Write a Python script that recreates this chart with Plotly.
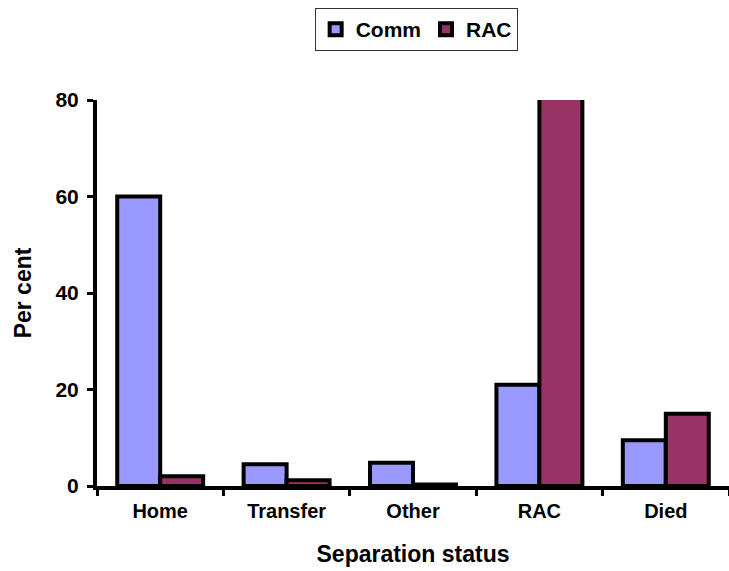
import plotly.graph_objects as go

categories = ["Home", "Transfer", "Other", "RAC", "Died"]
comm_values = [60, 4.5, 4.8, 21, 9.5]
rac_values = [2, 1.2, 0.3, 85, 15]
y_ticks = [0, 20, 40, 60, 80]

FONT = "Arial, Liberation Sans, sans-serif"

fig = go.Figure()
fig.add_trace(go.Bar(
    name="Comm", x=categories, y=comm_values,
    marker=dict(color="#9999FF", line=dict(color="black", width=4)),
))
fig.add_trace(go.Bar(
    name="RAC", x=categories, y=rac_values,
    marker=dict(color="#993366", line=dict(color="black", width=4)),
))

fig.update_layout(
    width=729, height=571,
    margin=dict(l=97, r=0, t=100, b=85),
    paper_bgcolor="white", plot_bgcolor="white",
    barmode="group", bargap=0.32, bargroupgap=0,
    font=dict(family=FONT, color="black", size=21, weight="bold"),
    showlegend=True,
    legend=dict(
        orientation="h", x=0.505, xanchor="center", y=0.986, yanchor="top",
        yref="container", xref="paper",
        bordercolor="#333333", borderwidth=1, bgcolor="white",
        font=dict(family=FONT, size=21, weight="bold"),
        itemwidth=30, entrywidth=0, tracegroupgap=0,
    ),
    xaxis=dict(
        showline=True, linecolor="black", linewidth=4,
        ticks="outside", tickson="boundaries", ticklen=6, tickwidth=3, tickcolor="black",
        tickfont=dict(family=FONT, size=20, weight="bold"),
        ticklabelstandoff=4,
        title=dict(text="Separation status", font=dict(family=FONT, size=23, weight="bold"), standoff=26),
        showgrid=False, zeroline=False,
    ),
    yaxis=dict(
        range=[0, 80], tickvals=y_ticks,
        showline=True, linecolor="black", linewidth=4,
        ticks="outside", ticklen=6, tickwidth=3, tickcolor="black",
        tickfont=dict(family=FONT, size=21, weight="bold"),
        ticklabelstandoff=4,
        title=dict(text="Per cent", font=dict(family=FONT, size=23, weight="bold"), standoff=18),
        showgrid=False, zeroline=False,
    ),
)

fig.write_html("out.html")
